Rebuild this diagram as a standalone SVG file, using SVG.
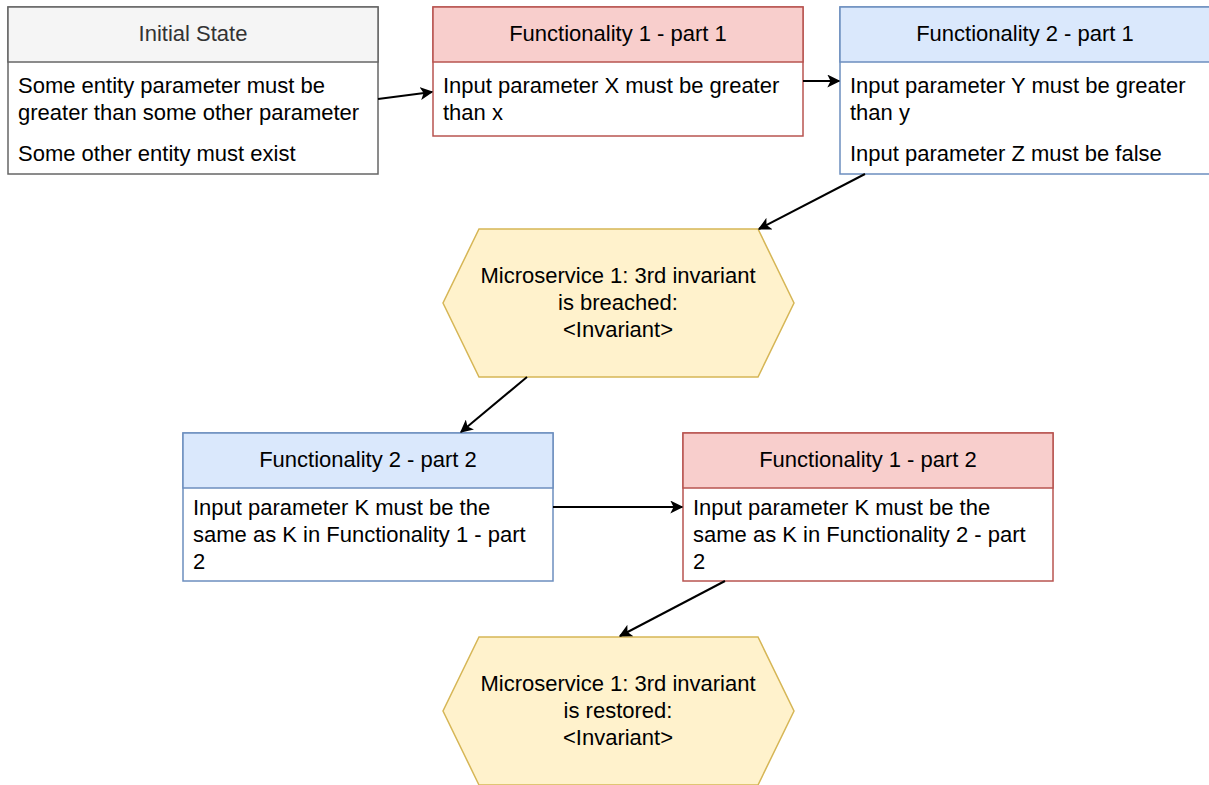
<svg xmlns="http://www.w3.org/2000/svg" width="1209" height="785" viewBox="0 0 1209 785">
<defs>
<style>
text{font-family:"Liberation Sans",Arial,sans-serif;font-size:22px;fill:#000}
.c{text-anchor:middle}
.grayH{fill:#f5f5f5;stroke:#666666;stroke-width:1.5}
.gray{fill:#ffffff;stroke:#666666;stroke-width:1.5}
.redH{fill:#f8cecc;stroke:#b85450;stroke-width:1.5}
.red{fill:#ffffff;stroke:#b85450;stroke-width:1.5}
.blueH{fill:#dae8fc;stroke:#6c8ebf;stroke-width:1.5}
.blue{fill:#ffffff;stroke:#6c8ebf;stroke-width:1.5}
.hex{fill:#fff2cc;stroke:#d6b656;stroke-width:1.5}
.edge{fill:none;stroke:#000;stroke-width:2;marker-end:url(#arr)}
</style>
<marker id="arr" viewBox="0 0 10 10" refX="9" refY="5" markerWidth="13" markerHeight="13" markerUnits="userSpaceOnUse" orient="auto">
<path d="M0,0 L10,5 L0,10 L2.5,5 Z" fill="#000"/>
</marker>
</defs>
<g id="initial-state">
<rect class="gray" x="8" y="7" width="370" height="167"/>
<rect class="grayH" x="8" y="7" width="370" height="55"/>
<text class="c" x="193" y="41" style="fill:#333333">Initial State</text>
<text x="18" y="93">Some entity parameter must be</text>
<text x="18" y="120">greater than some other parameter</text>
<text x="18" y="161">Some other entity must exist</text>
</g>
<g id="func1-part1">
<rect class="red" x="433" y="7" width="370" height="129"/>
<rect class="redH" x="433" y="7" width="370" height="55"/>
<text class="c" x="618" y="41">Functionality 1 - part 1</text>
<text x="443" y="93">Input parameter X must be greater</text>
<text x="443" y="120">than x</text>
</g>
<g id="func2-part1">
<rect class="blue" x="840" y="7" width="370" height="167"/>
<rect class="blueH" x="840" y="7" width="370" height="55"/>
<text class="c" x="1025" y="41">Functionality 2 - part 1</text>
<text x="850" y="93">Input parameter Y must be greater</text>
<text x="850" y="120">than y</text>
<text x="850" y="161">Input parameter Z must be false</text>
</g>
<g id="invariant-breached">
<polygon class="hex" points="479,229 758,229 794,303 758,377 479,377 443,303"/>
<text class="c" x="618" y="283">Microservice 1: 3rd invariant</text>
<text class="c" x="618" y="310">is breached:</text>
<text class="c" x="618" y="337">&lt;Invariant&gt;</text>
</g>
<g id="func2-part2">
<rect class="blue" x="183" y="433" width="370" height="148"/>
<rect class="blueH" x="183" y="433" width="370" height="55"/>
<text class="c" x="368" y="467">Functionality 2 - part 2</text>
<text x="193" y="515">Input parameter K must be the</text>
<text x="193" y="542">same as K in Functionality 1 - part</text>
<text x="193" y="569">2</text>
</g>
<g id="func1-part2">
<rect class="red" x="683" y="433" width="370" height="148"/>
<rect class="redH" x="683" y="433" width="370" height="55"/>
<text class="c" x="868" y="467">Functionality 1 - part 2</text>
<text x="693" y="515">Input parameter K must be the</text>
<text x="693" y="542">same as K in Functionality 2 - part</text>
<text x="693" y="569">2</text>
</g>
<g id="invariant-restored">
<polygon class="hex" points="479,637 758,637 794,711 758,785 479,785 443,711"/>
<text class="c" x="618" y="691">Microservice 1: 3rd invariant</text>
<text class="c" x="618" y="718">is restored:</text>
<text class="c" x="618" y="745">&lt;Invariant&gt;</text>
</g>
<g id="connectors">
<path class="edge" d="M378,99 L432,92"/>
<path class="edge" d="M803,81 L839,81"/>
<path class="edge" d="M865,174 L759,229"/>
<path class="edge" d="M527,377 L461,432"/>
<path class="edge" d="M553,507 L682,507"/>
<path class="edge" d="M725,581 L620,636"/>
</g>
</svg>
